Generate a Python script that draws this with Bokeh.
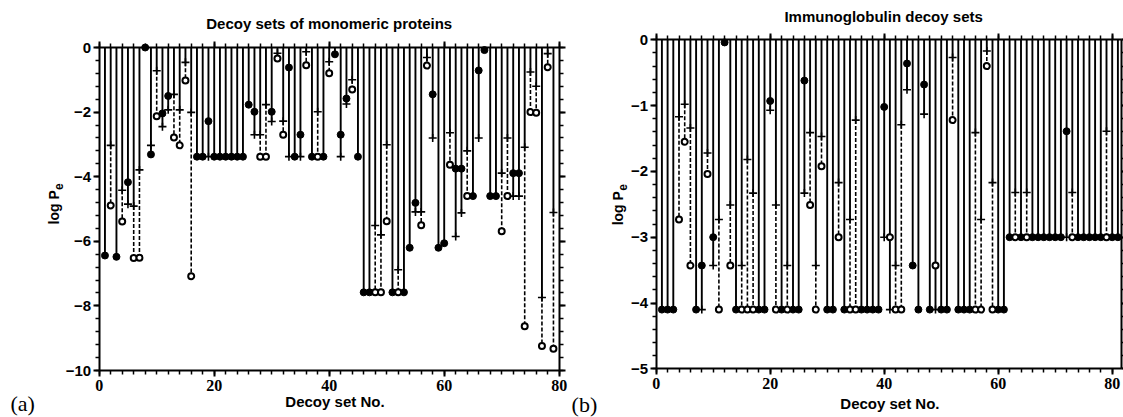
import math
from bokeh.plotting import figure
from bokeh.layouts import row
from bokeh.models import (Label, LinearAxis, SingleIntervalTicker, Range1d,
                          ColumnDataSource, CustomJSTickFormatter)
from bokeh.embed import file_html
from bokeh.resources import INLINE

nan = float("nan")

# ---------------- Panel (a): decoy sets of monomeric proteins ----------------
# circle value (log Pe), circle filled (1) / open (0), plus-marker value
a_circle = [-6.44, -4.89, -6.48, -5.39, -4.17, -6.52, -6.51, 0.0, -3.31, -2.13,
            -2.04, -1.50, -2.79, -3.03, -1.02, -7.08, -3.38, -3.38, -2.28, -3.38,
            -3.38, -3.38, -3.38, -3.38, -3.38, -1.77, -1.99, -3.38, -3.38, -1.99,
            -0.34, -2.70, -0.62, -3.38, -2.70, -0.55, -3.38, -3.38, -3.38, -0.80,
            -0.21, -2.70, -1.58, -1.30, -3.38, -7.58, -7.58, -7.58, -7.58, -5.38,
            -7.58, -7.58, -7.58, -6.20, -4.81, -5.50, -0.56, -1.45, -6.20, -6.06,
            -3.63, -3.75, -3.75, -4.60, -4.60, -0.71, -0.08, -4.60, -4.60, -5.69,
            -4.60, -3.89, -3.89, -8.63, -2.00, -2.02, -9.24, -0.61, -9.33]
a_filled = [1, 0, 1, 0, 1, 0, 0, 1, 1, 0,
            1, 1, 0, 0, 0, 0, 1, 1, 1, 1,
            1, 1, 1, 1, 1, 1, 1, 0, 0, 1,
            0, 0, 1, 1, 1, 0, 1, 0, 1, 0,
            1, 1, 1, 0, 1, 1, 1, 0, 0, 0,
            1, 0, 1, 1, 1, 0, 0, 1, 1, 1,
            0, 1, 1, 0, 1, 1, 1, 1, 1, 0,
            0, 1, 1, 0, 0, 0, 0, 0, 0]
a_plus = [nan, -3.03, nan, -4.42, -4.85, -4.91, -3.79, nan, -3.03, -0.72,
          -2.45, -1.93, -1.45, -1.93, -0.46, -2.01, nan, nan, -3.38, nan,
          nan, nan, nan, nan, nan, nan, -2.70, -2.70, -1.77, -2.29,
          -0.18, -2.28, -3.38, nan, -3.38, -0.13, nan, -1.99, nan, -0.44,
          nan, -3.38, -1.75, -1.00, nan, nan, nan, -5.51, -5.80, -3.01,
          nan, -6.88, nan, nan, -5.09, -5.09, -0.31, -2.80, nan, nan,
          -2.64, -5.85, -5.12, -3.20, nan, -2.80, nan, nan, nan, -3.89,
          -2.80, -4.60, -4.60, -3.09, -0.76, -1.20, -7.74, -0.19, -5.11]

# ---------------- Panel (b): immunoglobulin decoy sets ----------------
b_circle = [-4.1, -4.1, -4.1, -2.73, -1.55, -3.43, -4.1, -3.43, -2.04, -3.0,
            -4.1, -0.04, -3.43, -4.1, -4.1, -4.1, -4.1, -4.1, -4.1, -0.93,
            -4.1, -4.1, -4.1, -4.1, -4.1, -0.62, -2.51, -4.1, -1.92, -4.1,
            -4.1, -3.0, -4.1, -4.1, -4.1, -4.1, -4.1, -4.1, -4.1, -1.02,
            -3.0, -4.1, -4.1, -0.36, -3.43, -4.1, -0.68, -4.1, -3.43, -4.1,
            -4.1, -1.22, -4.1, -4.1, -4.1, -4.1, -4.1, -0.40, -4.1, -4.1,
            -4.1, -3.0, -3.0, -3.0, -3.0, -3.0, -3.0, -3.0, -3.0, -3.0,
            -3.0, -1.39, -3.0, -3.0, -3.0, -3.0, -3.0, -3.0, -3.0, -3.0,
            -3.0]
b_filled = [1, 1, 1, 0, 0, 0, 1, 1, 0, 1,
            0, 1, 0, 1, 0, 0, 0, 1, 1, 1,
            0, 1, 0, 1, 1, 1, 0, 0, 0, 1,
            1, 0, 1, 0, 0, 1, 1, 1, 1, 1,
            0, 0, 0, 1, 1, 1, 1, 1, 0, 1,
            1, 0, 1, 1, 1, 0, 0, 0, 0, 1,
            1, 1, 0, 1, 0, 1, 1, 1, 1, 1,
            1, 1, 0, 1, 1, 1, 1, 1, 0, 1,
            1]
b_plus = [nan, nan, nan, -1.17, -0.98, -1.34, nan, -4.1, -1.72, -3.43,
          -2.73, nan, -2.51, nan, -3.43, -1.82, -2.33, nan, nan, -1.07,
          -2.51, nan, -3.43, nan, nan, -2.33, -1.41, -3.43, -1.47, nan,
          nan, -2.17, nan, -2.73, -1.22, nan, nan, nan, nan, -3.0,
          -4.1, -3.43, -1.29, -0.76, nan, nan, -1.13, nan, -4.1, nan,
          nan, -0.27, nan, nan, nan, -1.41, -2.73, -0.17, -2.17, nan,
          nan, nan, -2.32, nan, -2.32, nan, nan, nan, nan, nan,
          nan, -3.0, -2.32, nan, nan, nan, nan, nan, -1.39, nan,
          nan]

SANS = "Liberation Sans"
SERIF = "Liberation Serif"


def build_sources(circle, filled, plus):
    xs = list(range(1, len(circle) + 1))
    solid = dict(x=[], y1=[])
    dash = dict(x=[], y0=[], y1=[])
    for x, c, f, p in zip(xs, circle, filled, plus):
        if math.isnan(p):
            bottom = c
        elif f:
            bottom = min(c, p)
        else:
            if c < p:
                bottom = p
                dash["x"].append(x); dash["y0"].append(p); dash["y1"].append(c)
            else:
                bottom = min(c, p)
        solid["x"].append(x); solid["y1"].append(bottom)
    solid["y0"] = [0.0] * len(solid["x"])
    pts_f = dict(x=[x for x, f in zip(xs, filled) if f],
                 y=[c for c, f in zip(circle, filled) if f])
    pts_o = dict(x=[x for x, f in zip(xs, filled) if not f],
                 y=[c for c, f in zip(circle, filled) if not f])
    pls = dict(x=[x for x, p in zip(xs, plus) if not math.isnan(p)],
               y=[p for p in plus if not math.isnan(p)])
    return solid, dash, pts_f, pts_o, pls


def style_axis(ax, font, size):
    ax.axis_line_width = 2
    ax.axis_line_color = "black"
    ax.major_tick_line_width = 2
    ax.minor_tick_line_width = 1.5
    ax.major_tick_in = 0
    ax.major_tick_out = 6
    ax.minor_tick_in = 0
    ax.minor_tick_out = 4
    ax.major_label_text_font = font
    ax.major_label_text_font_style = "bold"
    ax.major_label_text_font_size = size
    ax.major_label_text_color = "black"
    ax.major_label_standoff = 3


def make_panel(circle, filled, plus, width, xr, yr, ymin, yint, right_at):
    p = figure(width=width, height=417, output_backend="svg",
               toolbar_location=None, x_range=Range1d(*xr), y_range=Range1d(*yr),
               min_border_left=0, min_border_right=0,
               min_border_top=0, min_border_bottom=0,
               x_axis_location=None, y_axis_location=None)
    p.grid.visible = False
    p.outline_line_color = None
    p.background_fill_color = "white"
    p.border_fill_color = "white"

    xt = SingleIntervalTicker(interval=20, num_minor_ticks=10)
    yt = SingleIntervalTicker(interval=yint, num_minor_ticks=5)
    blank = CustomJSTickFormatter(code="return ''")

    xb = LinearAxis(ticker=xt, fixed_location=ymin, bounds=(0, right_at))
    style_axis(xb, SERIF, "16px")
    p.add_layout(xb, "below")
    xa = LinearAxis(ticker=xt, formatter=blank, fixed_location=0,
                    bounds=(0, right_at))
    style_axis(xa, SANS, "1px")
    p.add_layout(xa, "above")
    yl = LinearAxis(ticker=yt, fixed_location=0, bounds=(ymin, 0))
    style_axis(yl, SANS, "15px")
    yl.major_label_standoff = 2
    p.add_layout(yl, "left")
    yrr = LinearAxis(ticker=yt, formatter=blank, fixed_location=right_at,
                     bounds=(ymin, 0))
    style_axis(yrr, SANS, "1px")
    p.add_layout(yrr, "right")

    solid, dash, pf, po, pl = build_sources(circle, filled, plus)
    p.segment(x0="x", y0="y0", x1="x", y1="y1", source=ColumnDataSource(solid),
              line_color="black", line_width=1.9)
    p.segment(x0="x", y0="y0", x1="x", y1="y1", source=ColumnDataSource(dash),
              line_color="black", line_width=1.6, line_dash="4 2")
    p.scatter(x="x", y="y", source=ColumnDataSource(pl), marker="cross",
              size=8, line_color="black", line_width=1.6)
    p.scatter(x="x", y="y", source=ColumnDataSource(pf), marker="circle",
              size=7, fill_color="black", line_color="black", line_width=1)
    p.scatter(x="x", y="y", source=ColumnDataSource(po), marker="circle",
              size=6, fill_color="white", line_color="black", line_width=2)
    return p


# Panel (a): canvas 0..568 px; x=0 at 98.7 px, 5.75 px/unit; y=0 at 47 px, 32.3 px/unit
pa = make_panel(a_circle, a_filled, a_plus, 568,
                (-98.7 / 5.75, (568 - 98.7) / 5.75),
                (-10 - 47 / 32.3, 47 / 32.3), -10, 2, 80)
# Panel (b): canvas 568..1123 px; x=0 at 655.7 px, 5.7 px/unit; y=0 at 39.3 px, 65.8 px/unit
pb = make_panel(b_circle, b_filled, b_plus, 555,
                (-87.7 / 5.7, (555 - 87.7) / 5.7),
                (-5 - 48.7 / 65.8, 39.3 / 65.8), -5, 1, 81.7)


def txt(p, x, y, s, size, font=SANS, style="bold", angle=0.0, align="center",
        baseline="middle"):
    p.add_layout(Label(x=x, y=y, text=s, text_font=font, text_font_style=style,
                       text_font_size=size, angle=angle, text_align=align,
                       text_baseline=baseline, text_color="black"))


# texts for panel (a)
txt(pa, 40, 0.75, "Decoy sets of monomeric proteins", "15px")
txt(pa, 41, -10.97, "Decoy set No.", "15px")
txt(pa, -13.3, -11.03, "(a)", "22px", font=SERIF, style="normal")
txt(pa, -7.85, -4.95, "log P", "14px", angle=math.pi / 2)
txt(pa, -7.0, -4.31, "e", "12px", angle=math.pi / 2)

# texts for panel (b)
txt(pb, 39.9, 0.36, "Immunoglobulin decoy sets", "15px")
txt(pb, 41, -5.53, "Decoy set No.", "15px")
txt(pb, -12.6, -5.54, "(b)", "22px", font=SERIF, style="normal")
txt(pb, -6.75, -2.56, "log P", "14px", angle=math.pi / 2)
txt(pb, -5.9, -2.245, "e", "12px", angle=math.pi / 2)

layout = row(pa, pb, spacing=0)
open("out.html", "w").write(file_html(layout, INLINE))
